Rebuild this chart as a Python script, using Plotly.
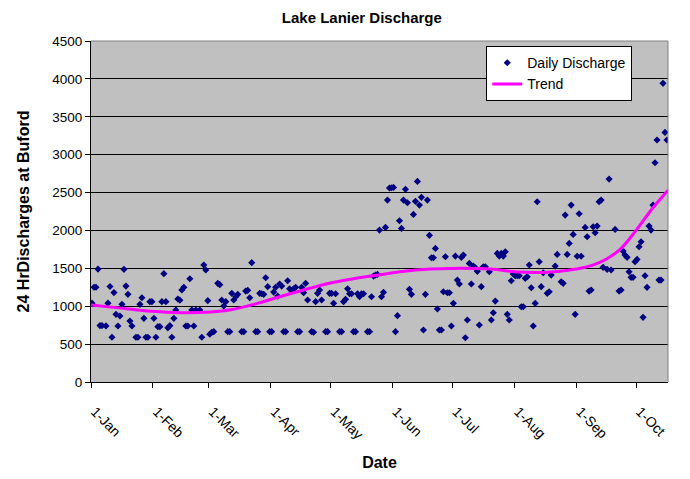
import pandas as pd
import plotly.graph_objects as go

# ---------------- data ----------------
year_start = "2007-01-01"

day_index = [
    0, 1, 2, 3, 4, 5, 7, 8, 9, 10, 11, 12, 13, 14, 15, 16, 17, 18, 19, 20,
    22, 23, 24, 25, 26, 27, 28, 29, 30, 31, 32, 33, 34, 35, 36, 37, 38, 39, 40,
    41, 42, 43, 44, 45, 46, 47, 48, 49, 50, 51, 52, 54, 55, 56, 57, 58,
    59, 60, 61, 63, 64, 65, 66, 67, 68, 69, 70, 71, 72, 73, 75, 76, 77, 78, 79,
    80, 82, 83, 84, 85, 86, 87, 88, 89,
    90, 91, 92, 93, 94, 95, 96, 97, 98, 99, 100, 101, 102, 103, 104, 105, 106,
    107, 108, 110, 111, 112, 113, 114, 115, 117, 118, 119,
    120, 121, 122, 124, 125, 126, 127, 128, 129, 130, 131, 132, 133, 134, 135,
    136, 138, 139, 140, 141, 142, 143, 144, 145, 146, 147, 148, 149, 150,
    151, 152, 153, 154, 155, 156, 157, 158, 159, 160, 161, 162, 163, 164, 165,
    166, 167, 168, 169, 170, 171, 172, 173, 174, 175, 176, 177, 178, 179, 180,
    181, 182, 183, 184, 185, 186, 187, 188, 189, 190, 191, 192, 193, 194, 195,
    196, 197, 199, 200, 201, 202, 203, 204, 205, 206, 207, 208, 209, 210, 211,
    212, 213, 214, 215, 216, 217, 218, 219, 220, 221, 222, 223, 224, 225, 226,
    228, 229, 230, 232, 233, 235, 236, 237, 238, 239, 240, 241, 242,
    243, 244, 245, 247, 248, 249, 250, 251, 252, 253, 254, 255, 256, 258, 259,
    260, 262, 264, 265, 266, 267, 268, 269, 270, 271, 272,
    273, 274, 275, 276, 277, 278, 279, 280, 281, 282, 283, 284, 285, 286, 287,
    288,
]

daily_discharge = [
    1040, 1250, 1250, 1490, 745, 745, 740, 1040, 1260, 590, 1180, 893, 739, 871,
    1025, 1487, 1266, 1157, 805, 739,
    590, 590, 1025, 1112, 840, 590, 590, 1060, 1060, 840, 590, 730, 730, 1060,
    1430, 1060, 715, 743, 590,
    840, 950, 1095, 1080, 1214, 1249, 739, 739, 1363, 950, 739, 950, 950, 590,
    1544, 1478, 1073,
    630, 656, 664, 1302, 1284, 1082, 1003, 1060, 664, 664, 1170, 1082, 1125,
    1157, 664, 664, 1200, 1210, 1112,
    1575, 664, 664, 1170, 1165, 1157, 1376, 1258, 664,
    664, 1187, 1249, 1134, 1293, 1266, 664, 664, 1336, 1231, 1205, 1231, 1249,
    664, 664, 1249, 1178,
    1302, 1082, 664, 656, 1060, 1170, 1214, 1082, 664, 664, 1170,
    1170, 1038, 1165, 664, 664, 1060, 1091, 1231, 1165, 1165, 664, 664, 1165,
    1125, 1165,
    1165, 664, 664, 1125, 1398, 1411, 1420, 2005, 1125, 1183, 2040, 2401, 2560,
    2563,
    2568, 664, 875, 2128, 2027, 2401, 2542, 2366, 1223, 1157, 2212, 2384, 2647,
    2335, 2437,
    686, 1157, 2401, 1935, 1640, 1640, 1763, 963, 686, 686, 1191, 1653, 1178,
    1178, 739,
    1038, 1662, 1345, 1293, 1645, 1675, 584, 818, 1565, 1293, 1530, 1508, 1460,
    752, 1258,
    1521, 1521, 1455, 818, 914, 1068, 1697, 1662, 1697, 1662, 1719, 893, 818,
    1336, 1425,
    1402, 1402, 1402, 993, 993, 1368, 1389, 1544, 1244, 739, 1038, 2379, 1587,
    1258, 1442,
    1170, 1191, 1411, 1530, 1684, 1323, 1302, 2203, 1684, 1829, 2335, 1948, 893,
    1660, 2220, 1660, 2040, 1917, 1200, 1214, 2049, 1970, 2058, 2379, 2401, 1513,
    1487, 2678,
    1478, 2014, 1200, 1214, 1728, 1675, 1645, 1455, 1381, 1381, 1587,
    1618, 1785, 1851, 853, 1402, 1249, 2058, 2005, 2335, 2893, 3193, 1345, 1345,
    3941, 3294,
    3193,
]

trend_day = [0, 15, 30, 45, 60, 70, 85, 95, 110, 120, 135, 145, 156, 170, 180,
             200, 214, 226, 235, 243, 251, 258, 265, 273, 280, 289]
trend_value = [1015, 975, 935, 915, 925, 953, 1050, 1129, 1240, 1306, 1380,
               1416, 1459, 1490, 1499, 1491, 1450, 1446, 1460, 1491, 1540,
               1620, 1750, 2000, 2250, 2530]

month_ticks = ["2007-01-01", "2007-02-01", "2007-03-01", "2007-04-01",
               "2007-05-01", "2007-06-01", "2007-07-01", "2007-08-01",
               "2007-09-01", "2007-10-01"]
month_labels = ["1-Jan", "1-Feb", "1-Mar", "1-Apr", "1-May", "1-Jun",
                "1-Jul", "1-Aug", "1-Sep", "1-Oct"]

# ---------------- build ----------------
start = pd.Timestamp(year_start)
x_daily = start + pd.to_timedelta(day_index, unit="D") + pd.Timedelta(hours=12)
x_trend = start + pd.to_timedelta(trend_day, unit="D")
x_end = start + pd.Timedelta(days=289)

FONT = "Liberation Sans, Arial, sans-serif"

fig = go.Figure()
fig.add_trace(go.Scatter(
    x=x_daily, y=daily_discharge, mode="markers", name="Daily Discharge",
    marker=dict(symbol="diamond", size=5.5, color="#000080",
                line=dict(width=0)),
))
fig.add_trace(go.Scatter(
    x=x_trend, y=trend_value, mode="lines", name="Trend",
    line=dict(color="#FF00FF", width=3, shape="spline", smoothing=1.0),
))

# the page body has an 8px margin, so the figure is 16px smaller than the window
W, H = 674, 463
fig.update_layout(
    width=W, height=H,
    margin=dict(l=83, r=14, t=33, b=89),
    paper_bgcolor="white",
    plot_bgcolor="#C0C0C0",
    font=dict(family=FONT, color="black", size=13),
    title=dict(text="<b>Lake Lanier Discharge</b>", x=0.525, xanchor="center",
               y=0.978, yanchor="middle", yref="container",
               font=dict(size=15, family=FONT, color="black")),
    showlegend=True,
    legend=dict(x=0.685, y=0.985, xanchor="left", yanchor="top",
                bgcolor="white", bordercolor="black", borderwidth=1,
                font=dict(size=14, family=FONT), itemwidth=30),
    xaxis=dict(
        type="date", range=[start, x_end], automargin=False,
        tickvals=month_ticks, ticktext=month_labels, tickangle=45,
        ticks="outside", ticklen=5, tickcolor="black", tickwidth=1,
        showline=True, linecolor="black", linewidth=1,
        showgrid=False, zeroline=False,
        tickfont=dict(size=14, family=FONT),
        ticklabelstandoff=10, ticklabelshift=4,
        title=dict(text="<b>Date</b>", font=dict(size=16, family=FONT),
                   standoff=22),
    ),
    yaxis=dict(
        range=[0, 4500], dtick=500, tick0=0, automargin=False,
        ticks="outside", ticklen=5, tickcolor="black", tickwidth=1,
        showline=True, linecolor="black", linewidth=1,
        showgrid=True, gridcolor="black", gridwidth=1,
        zeroline=False,
        tickfont=dict(size=13.5, family=FONT),
        title=dict(text="<b>24 HrDischarges at Buford</b>",
                   font=dict(size=16, family=FONT), standoff=18),
    ),
    shapes=[
        dict(type="line", xref="paper", yref="paper", x0=0, x1=1, y0=1, y1=1,
             line=dict(color="#808080", width=1)),
        dict(type="line", xref="paper", yref="paper", x0=1, x1=1, y0=0, y1=1,
             line=dict(color="#808080", width=1)),
    ],
)

fig.write_html("out.html")
